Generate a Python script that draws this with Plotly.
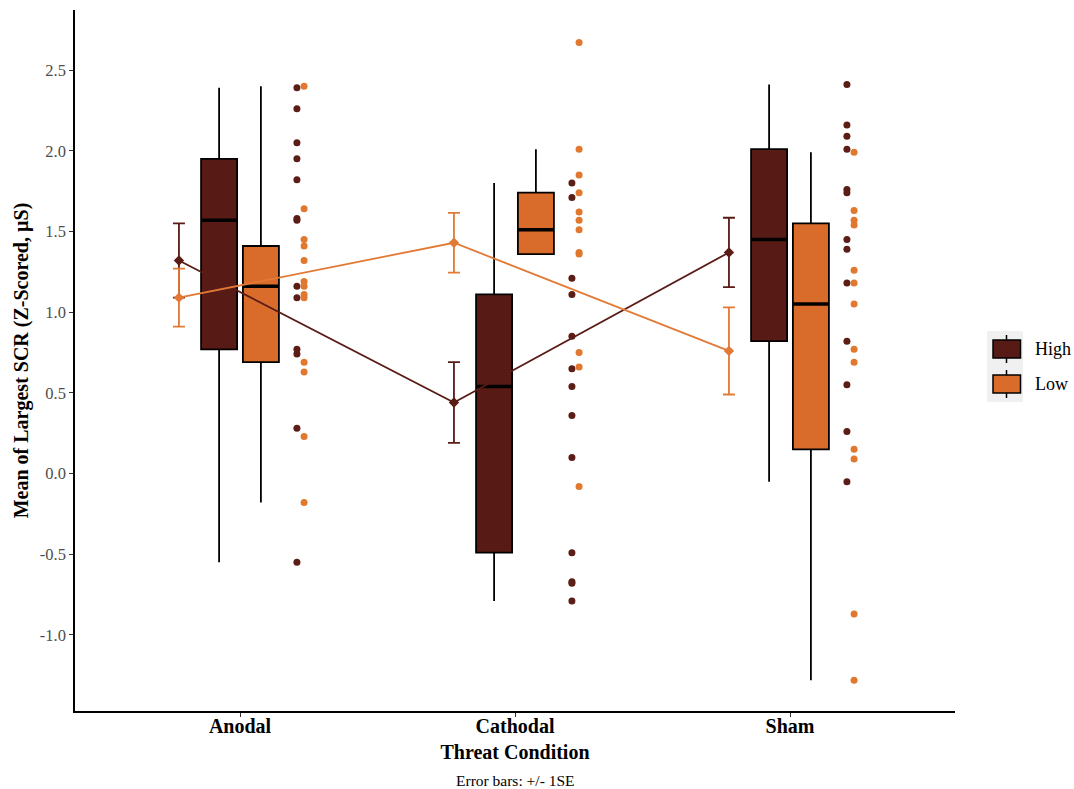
import plotly.graph_objects as go

# ---- data -------------------------------------------------------------
conditions = ["Anodal", "Cathodal", "Sham"]
groups = ["High", "Low"]

# boxplot summaries per condition
high_q1 = [0.77, -0.49, 0.82]
high_median = [1.57, 0.54, 1.45]
high_q3 = [1.95, 1.11, 2.01]
high_lower = [-0.55, -0.79, -0.05]
high_upper = [2.39, 1.80, 2.41]

low_q1 = [0.69, 1.36, 0.15]
low_median = [1.16, 1.51, 1.05]
low_q3 = [1.41, 1.74, 1.55]
low_lower = [-0.18, 1.36, -1.28]
low_upper = [2.40, 2.01, 1.99]

# condition means and standard errors
high_mean = [1.32, 0.44, 1.37]
high_se = [0.23, 0.25, 0.215]
low_mean = [1.09, 1.43, 0.76]
low_se = [0.18, 0.185, 0.27]

# individual participant scores
high_points = {
    "Anodal": [2.39, 2.26, 2.05, 1.95, 1.82, 1.58, 1.57, 1.16, 1.09, 0.77, 0.74, 0.28, -0.55],
    "Cathodal": [1.80, 1.71, 1.21, 1.11, 0.85, 0.65, 0.54, 0.36, 0.10, -0.49, -0.67, -0.68, -0.79],
    "Sham": [2.41, 2.16, 2.09, 2.01, 1.76, 1.74, 1.45, 1.39, 1.18, 0.82, 0.55, 0.26, -0.05],
}
low_points = {
    "Anodal": [2.40, 1.64, 1.45, 1.41, 1.32, 1.19, 1.16, 1.11, 1.09, 0.69, 0.63, 0.23, -0.18],
    "Cathodal": [2.67, 2.01, 1.85, 1.74, 1.62, 1.57, 1.51, 1.37, 1.36, 0.75, 0.66, -0.08],
    "Sham": [1.99, 1.63, 1.57, 1.54, 1.26, 1.18, 1.05, 0.77, 0.69, 0.15, 0.09, -0.87, -1.28],
}

y_ticks = [-1.0, -0.5, 0.0, 0.5, 1.0, 1.5, 2.0, 2.5]

# ---- styling ------------------------------------------------------------
DARK_FILL = "#581a15"
ORANGE_FILL = "#d96b2b"
DARK_PT = "#5b1d16"
ORANGE_PT = "#e0792f"
DARK_LINE = "#5a1c16"
ORANGE_LINE = "#e27a36"
FONT = "Liberation Serif"

BOX_OFFSET = 0.076
BOX_WIDTH = 0.131
POINT_OFFSET = {"High": 0.207, "Low": 0.233}
MEAN_OFFSET = -0.222

fig = go.Figure()

cat_pos = list(range(1, len(conditions) + 1))

box_specs = [
    ("High", -BOX_OFFSET, DARK_FILL, high_q1, high_median, high_q3, high_lower, high_upper),
    ("Low", BOX_OFFSET, ORANGE_FILL, low_q1, low_median, low_q3, low_lower, low_upper),
]

for name, off, fill, q1, med, q3, lo, hi in box_specs:
    for i, cond in enumerate(conditions):
        x = cat_pos[i] + off
        fig.add_trace(go.Box(
            x=[x], q1=[q1[i]], median=[med[i]], q3=[q3[i]],
            lowerfence=[lo[i]], upperfence=[hi[i]],
            width=BOX_WIDTH, whiskerwidth=0,
            fillcolor=fill, line=dict(color="black", width=1.8),
            boxpoints=False, showlegend=False, hoverinfo="skip",
        ))
        # thicker median bar
        fig.add_trace(go.Scatter(
            x=[x - BOX_WIDTH / 2, x + BOX_WIDTH / 2], y=[med[i], med[i]],
            mode="lines", line=dict(color="black", width=3.5),
            showlegend=False, hoverinfo="skip",
        ))

# individual scores beside each condition
for name, pts, col in [("High", high_points, DARK_PT), ("Low", low_points, ORANGE_PT)]:
    xs, ys = [], []
    for i, cond in enumerate(conditions):
        for v in pts[cond]:
            xs.append(cat_pos[i] + POINT_OFFSET[name])
            ys.append(v)
    fig.add_trace(go.Scatter(
        x=xs, y=ys, mode="markers",
        marker=dict(color=col, size=7),
        showlegend=False, hoverinfo="skip",
    ))

# mean +/- 1SE with connecting lines
for name, mean, se, col in [("High", high_mean, high_se, DARK_LINE), ("Low", low_mean, low_se, ORANGE_LINE)]:
    fig.add_trace(go.Scatter(
        x=[p + MEAN_OFFSET for p in cat_pos], y=mean,
        mode="lines+markers",
        line=dict(color=col, width=1.8),
        marker=dict(color=col, size=8, symbol="diamond"),
        error_y=dict(type="data", array=se, visible=True, color=col, thickness=1.8, width=6),
        showlegend=False, hoverinfo="skip",
    ))

# ---- legend drawn as boxplot keys ----------------------------------------
PLOT_L, PLOT_R, PLOT_T, PLOT_B = 75, 955, 10, 711


def px(xp):
    return (xp - PLOT_L) / (PLOT_R - PLOT_L)


def py(yp):
    return (PLOT_B - yp) / (PLOT_B - PLOT_T)


shapes = []
annotations = []
legend_rows = [("High", DARK_FILL, 349), ("Low", ORANGE_FILL, 384)]
shapes.append(dict(type="rect", xref="paper", yref="paper",
                   x0=px(987), x1=px(1023), y0=py(331), y1=py(402),
                   fillcolor="#f0f0f0", line=dict(width=0), layer="below"))
for label, fill, cy in legend_rows:
    shapes.append(dict(type="line", xref="paper", yref="paper",
                       x0=px(1006.5), x1=px(1006.5), y0=py(cy - 14), y1=py(cy + 14),
                       line=dict(color="black", width=1.5)))
    shapes.append(dict(type="rect", xref="paper", yref="paper",
                       x0=px(993), x1=px(1020.5), y0=py(cy - 9), y1=py(cy + 9),
                       fillcolor=fill, line=dict(color="black", width=1.5)))
    annotations.append(dict(xref="paper", yref="paper", x=px(1033), y=py(cy),
                            text=label, showarrow=False, xanchor="left", yanchor="middle",
                            font=dict(family=FONT, size=18, color="black")))

annotations.append(dict(xref="paper", yref="paper", x=0.5, y=py(780),
                        text="Error bars: +/- 1SE", showarrow=False,
                        xanchor="center", yanchor="middle",
                        font=dict(family=FONT, size=15.5, color="black")))

fig.update_layout(
    width=1074, height=789,
    margin=dict(l=PLOT_L, r=1074 - PLOT_R, t=PLOT_T, b=789 - PLOT_B),
    plot_bgcolor="white", paper_bgcolor="white",
    boxmode="overlay", showlegend=False,
    shapes=shapes, annotations=annotations,
    font=dict(family=FONT),
)

fig.update_xaxes(
    range=[0.4, 3.6],
    tickvals=cat_pos, ticktext=[f"<b>{c}</b>" for c in conditions],
    tickfont=dict(family=FONT, size=20, color="black"),
    ticks="outside", ticklen=4, tickcolor="#333333", tickwidth=1.2,
    ticklabelstandoff=-8,
    showline=True, linecolor="black", linewidth=1.6,
    showgrid=False, zeroline=False,
    title=dict(text="<b>Threat Condition</b>", font=dict(family=FONT, size=20, color="black"), standoff=9),
)
fig.update_yaxes(
    range=[-1.471, 2.872],
    tickvals=y_ticks, ticktext=[f"{v:.1f}" for v in y_ticks],
    tickfont=dict(family=FONT, size=16.5, color="#4d4d4d"),
    ticks="outside", ticklen=4, tickcolor="#333333", tickwidth=1.2,
    showline=True, linecolor="black", linewidth=1.6,
    showgrid=False, zeroline=False,
    title=dict(text="<b>Mean of Largest SCR (Z-Scored, µS)</b>", font=dict(family=FONT, size=20, color="black"), standoff=6),
)

fig.write_html("out.html")
